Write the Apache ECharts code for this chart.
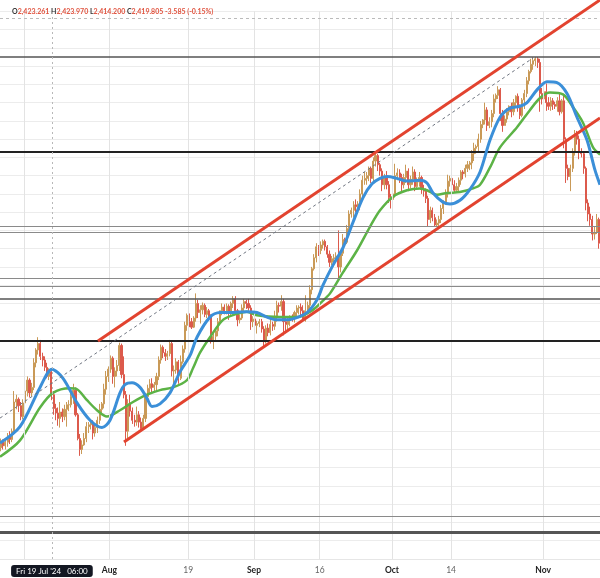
<!DOCTYPE html>
<html><head><meta charset="utf-8">
<script src="https://cdn.jsdelivr.net/npm/echarts@6/dist/echarts.min.js"></script>
<style>html,body{margin:0;padding:0;background:#fff}#c{width:600px;height:578px}</style>
</head><body><div id="c"></div>
<script>
// ---- header values (crosshair bar) ----
const headerO = '2,423.261', headerH = '2,423.970', headerL = '2,414.200', headerC = '2,419.805', headerChg = '-3.585 (-0.15%)';
const crosshairDay = 4.25;
const crosshairLabel = "Fri 19 Jul '24   06:00";

// ---- x axis: trading-day index (0 = Mon 15 Jul 2024) ----
const firstDay = -4;          // Tue 9 Jul
const barsPerDay = 3;
const tickDays = [0, 13, 25, 35, 45, 56, 65, 79];
const tickLabels = ['', 'Aug', '19', 'Sep', '16', 'Oct', '14', 'Nov'];
const monthLabels = ['Aug', 'Sep', 'Oct', 'Nov'];

// ---- candles: per trading day, 3 bars of [open, close, low, high] ----
const dayBars = [
 [[2359,2362,2355,2366],[2362,2368,2358,2372],[2368,2364,2360,2371]], // Jul 9
 [[2364,2368,2360,2372],[2368,2374,2363,2378],[2374,2371,2366,2380]], // Jul 10
 [[2371,2380,2368,2383],[2380,2412,2376,2424],[2412,2415,2404,2420]], // Jul 11
 [[2415,2408,2401,2417],[2408,2396,2392,2412],[2396,2411,2393,2415]], // Jul 12
 [[2411,2424,2410,2431],[2424,2436,2418,2440],[2436,2422,2417,2438]], // Jul 15
 [[2422,2428,2418,2433],[2428,2455,2425,2460],[2455,2469,2450,2471]],
 [[2469,2476,2464,2483],[2476,2462,2458,2480],[2462,2458,2451,2466]],
 [[2458,2450,2446,2462],[2450,2440,2438,2455],[2440,2445,2436,2449]],
 [[2445,2420,2414,2446],[2420,2405,2398,2424],[2405,2400,2392,2410]], // Jul 19
 [[2400,2394,2386,2406],[2394,2401,2384,2412],[2401,2396,2390,2405]], // Jul 22
 [[2396,2404,2392,2409],[2404,2409,2385,2412],[2409,2409,2402,2414]],
 [[2409,2418,2406,2424],[2418,2425,2410,2432],[2425,2398,2396,2428]],
 [[2398,2372,2370,2400],[2372,2360,2353,2377],[2360,2365,2355,2370]],
 [[2365,2372,2364,2378],[2372,2385,2368,2390],[2385,2387,2378,2390]],
 [[2387,2390,2382,2393],[2390,2378,2371,2392],[2378,2384,2374,2388]], // Jul 29
 [[2384,2392,2378,2396],[2392,2404,2388,2410],[2404,2410,2400,2412]],
 [[2410,2426,2405,2432],[2426,2440,2420,2446],[2440,2448,2434,2451]],
 [[2448,2460,2444,2463],[2460,2440,2432,2462],[2440,2446,2428,2450]], // Aug 1
 [[2446,2452,2440,2458],[2452,2474,2446,2477],[2474,2442,2438,2476]],
 [[2442,2420,2416,2462],[2420,2380,2364,2424],[2380,2410,2372,2415]], // Aug 5
 [[2410,2402,2396,2420],[2402,2392,2388,2406],[2392,2390,2385,2398]],
 [[2390,2398,2386,2407],[2398,2390,2384,2402],[2390,2383,2380,2395]],
 [[2383,2394,2382,2398],[2394,2418,2390,2422],[2418,2427,2412,2431]],
 [[2427,2432,2420,2437],[2432,2428,2422,2438],[2428,2431,2424,2434]],
 [[2431,2440,2423,2444],[2440,2458,2436,2462],[2458,2472,2454,2475]], // Aug 12
 [[2472,2466,2460,2474],[2466,2462,2457,2470],[2462,2465,2458,2468]],
 [[2465,2476,2462,2480],[2476,2446,2440,2478],[2446,2447,2432,2452]],
 [[2447,2456,2443,2460],[2456,2438,2432,2458],[2438,2456,2436,2463]],
 [[2456,2470,2454,2474],[2470,2496,2466,2500],[2496,2507,2490,2509]],
 [[2507,2500,2494,2509],[2500,2494,2492,2504],[2494,2504,2493,2506]], // Aug 19
 [[2504,2520,2500,2531],[2520,2510,2504,2524],[2510,2513,2498,2518]],
 [[2513,2518,2508,2521],[2518,2508,2505,2520],[2508,2512,2504,2516]],
 [[2512,2506,2504,2514],[2506,2480,2476,2508],[2480,2484,2470,2488]],
 [[2484,2490,2479,2493],[2490,2500,2484,2504],[2500,2512,2496,2512]],
 [[2512,2516,2507,2520],[2516,2510,2508,2519],[2510,2517,2508,2520]], // Aug 26
 [[2517,2510,2502,2519],[2510,2520,2506,2522],[2520,2525,2515,2528]],
 [[2525,2512,2508,2528],[2512,2502,2495,2514],[2502,2504,2498,2508]],
 [[2504,2515,2502,2519],[2515,2522,2510,2525],[2522,2520,2514,2524]],
 [[2520,2515,2512,2525],[2515,2500,2491,2518],[2500,2503,2494,2506]],
 [[2503,2496,2490,2504],[2496,2498,2487,2501],[2498,2500,2494,2503]], // Sep 2
 [[2500,2492,2488,2503],[2492,2478,2472,2495],[2478,2493,2476,2496]],
 [[2493,2488,2484,2498],[2488,2497,2485,2503],[2497,2495,2490,2500]],
 [[2495,2506,2491,2512],[2506,2518,2500,2523],[2518,2517,2510,2521]],
 [[2517,2522,2512,2529],[2522,2500,2485,2525],[2500,2497,2490,2504]],
 [[2497,2502,2489,2505],[2502,2506,2495,2507],[2506,2505,2500,2508]], // Sep 9
 [[2505,2510,2499,2512],[2510,2515,2503,2518],[2515,2516,2508,2518]],
 [[2516,2512,2506,2520],[2512,2502,2500,2518],[2502,2512,2500,2529]],
 [[2512,2518,2510,2522],[2518,2535,2514,2540],[2535,2558,2530,2560]],
 [[2558,2570,2556,2574],[2570,2582,2565,2586],[2582,2578,2572,2584]],
 [[2578,2584,2574,2588],[2584,2588,2580,2590],[2588,2582,2578,2590]], // Sep 16
 [[2582,2574,2570,2584],[2574,2565,2560,2578],[2565,2569,2562,2572]],
 [[2569,2570,2565,2574],[2570,2572,2566,2576],[2572,2560,2546,2600]],
 [[2560,2575,2554,2578],[2575,2590,2572,2596],[2590,2587,2582,2592]],
 [[2587,2602,2585,2606],[2602,2618,2598,2622],[2618,2622,2614,2625]],
 [[2622,2628,2614,2632],[2628,2626,2620,2634],[2626,2629,2622,2632]], // Sep 23
 [[2629,2640,2622,2645],[2640,2655,2636,2660],[2655,2657,2650,2664]],
 [[2657,2660,2650,2664],[2660,2668,2654,2670],[2668,2657,2652,2670]],
 [[2657,2676,2654,2680],[2676,2682,2670,2685],[2682,2672,2665,2684]],
 [[2672,2665,2660,2674],[2665,2650,2643,2668],[2650,2658,2645,2662]],
 [[2658,2650,2645,2665],[2650,2636,2630,2654],[2636,2634,2624,2640]], // Sep 30
 [[2634,2640,2625,2644],[2640,2660,2636,2673],[2660,2663,2655,2668]],
 [[2663,2658,2652,2667],[2658,2650,2642,2662],[2650,2658,2646,2662]],
 [[2658,2665,2652,2672],[2665,2650,2643,2668],[2650,2656,2646,2660]],
 [[2656,2664,2650,2670],[2664,2648,2643,2667],[2648,2653,2645,2658]],
 [[2653,2658,2648,2664],[2658,2645,2640,2660],[2645,2643,2637,2650]], // Oct 7
 [[2643,2635,2630,2646],[2635,2612,2604,2638],[2612,2622,2608,2626]],
 [[2622,2614,2610,2625],[2614,2606,2604,2618],[2606,2608,2604,2612]],
 [[2608,2612,2603,2616],[2612,2624,2608,2628],[2624,2630,2618,2633]],
 [[2630,2640,2628,2645],[2640,2654,2636,2661],[2654,2657,2648,2660]],
 [[2657,2650,2645,2658],[2650,2644,2642,2655],[2644,2648,2642,2652]], // Oct 14
 [[2648,2655,2641,2658],[2655,2664,2650,2666],[2664,2662,2656,2666]],
 [[2662,2668,2658,2672],[2668,2672,2664,2676],[2672,2674,2666,2676]],
 [[2674,2684,2667,2688],[2684,2690,2676,2696],[2690,2692,2684,2694]],
 [[2692,2700,2686,2706],[2700,2716,2696,2720],[2716,2721,2712,2722]],
 [[2721,2732,2716,2740],[2732,2715,2709,2735],[2715,2719,2712,2724]], // Oct 21
 [[2719,2728,2713,2732],[2728,2744,2724,2749],[2744,2748,2740,2750]],
 [[2748,2754,2744,2758],[2754,2728,2720,2756],[2728,2715,2708,2732]],
 [[2715,2722,2715,2726],[2722,2730,2718,2734],[2730,2736,2726,2737]],
 [[2736,2730,2724,2740],[2730,2740,2726,2744],[2740,2747,2736,2748]],
 [[2747,2735,2730,2750],[2735,2726,2722,2738],[2726,2743,2724,2745]], // Oct 28
 [[2743,2750,2733,2754],[2750,2764,2746,2768],[2764,2774,2760,2776]],
 [[2774,2782,2772,2788],[2782,2786,2776,2790],[2786,2788,2780,2790]],
 [[2788,2784,2778,2790],[2784,2750,2730,2788],[2750,2744,2738,2756]],
 [[2744,2752,2740,2756],[2752,2740,2731,2761],[2740,2736,2732,2746]], // Nov 1
 [[2736,2742,2731,2746],[2742,2738,2732,2745],[2738,2736,2733,2741]], // Nov 4
 [[2736,2742,2730,2746],[2742,2730,2726,2750],[2730,2742,2728,2744]],
 [[2742,2700,2690,2749],[2700,2668,2652,2702],[2668,2659,2655,2672]],
 [[2659,2668,2643,2672],[2668,2686,2664,2690],[2686,2706,2682,2710]],
 [[2706,2700,2694,2709],[2700,2686,2678,2704],[2686,2684,2680,2690]],
 [[2684,2668,2662,2685],[2668,2630,2622,2670],[2630,2618,2610,2634]], // Nov 11
 [[2618,2612,2605,2626],[2612,2596,2589,2616],[2596,2598,2590,2604]],
 [[2598,2612,2596,2618],[2612,2586,2580,2614]]                          // Nov 13
];

// ---- moving averages [tradingDay, price] ----
const blueMA = [[-3.65,2367],[-0.61,2385],[2.44,2428],[4.26,2448],[5.94,2438],[8.07,2411],[10.05,2392],[11.87,2384],[13.09,2392],[14.61,2422],[15.37,2431],[16.44,2433],[17.66,2428],[18.72,2416],[19.48,2407],[20.70,2410],[22.22,2422],[23.74,2445],[25.27,2463],[26.33,2483],[28.31,2505],[29.83,2510],[31.81,2510],[33.94,2511],[35.46,2510],[36.99,2505],[38.51,2502],[40.03,2502],[40.94,2503],[43.07,2510],[44.60,2524],[45.51,2540],[47.03,2562],[48.55,2581],[50.08,2609],[51.60,2636],[52.97,2651],[54.19,2657],[55.25,2659],[56.77,2657],[58.30,2654],[60.27,2655],[61.34,2652],[62.25,2641],[63.77,2631],[64.84,2629],[66.36,2633],[67.88,2645],[69.41,2664],[70.93,2699],[72.45,2724],[73.97,2734],[75.49,2736],[76.56,2740],[78.08,2754],[79.60,2763],[81.13,2762],[82.65,2750],[84.17,2724],[85.69,2699],[86.91,2666],[87.67,2650]];
const greenMA = [[-3.65,2352],[-0.61,2370],[2.44,2406],[4.41,2422],[7.00,2427],[8.07,2426],[9.59,2414],[11.11,2403],[12.63,2396],[14.61,2403],[16.59,2412],[18.72,2420],[20.70,2425],[22.68,2428],[24.81,2436],[25.72,2449],[26.79,2466],[28.31,2483],[30.29,2502],[32.12,2508],[33.94,2511],[35.46,2507],[38.96,2505],[41.55,2505],[43.99,2513],[45.36,2522],[46.58,2531],[48.55,2554],[50.68,2578],[52.66,2604],[54.19,2622],[56.16,2637],[58.30,2644],[60.27,2646],[61.34,2644],[62.86,2639],[64.38,2641],[66.36,2642],[68.34,2646],[69.41,2650],[70.93,2669],[72.45,2691],[75.04,2713],[77.02,2732],[78.54,2745],[80.06,2751],[82.04,2749],[83.56,2735],[85.08,2718],[86.61,2691],[87.67,2683]];

// ---- drawn lines ----
const upperChannel = [[11.26,2478.8],[87.67,2852.4]];
const lowerChannel = [[15.22,2368.1],[87.67,2723.1]];
const midDashed = [[-3.65,2394.4],[77.47,2788.9]];
const levelsBlack = [2685.9, 2478.8];
const levelsDark = [2790.0, 2524.8];
const levelsGray = [2604.8, 2598.2, 2547.8, 2539.1, 2287.1];
const levelsBase = [2269.6];
const levelsDashed = [2832.7];

// ---- build ----
const candles = [];
dayBars.forEach((bars, i) => bars.forEach((b, k) => {
  candles.push([firstDay + i + (k + 0.5) / barsPerDay, b[0], b[1], b[2], b[3]]);
}));

function hLines(vals, style) {
  return vals.map(v => ({ yAxis: v, lineStyle: style }));
}
const levelData = [].concat(
  hLines(levelsGray, { color: '#8a8a8a', width: 1, type: 'solid' }),
  hLines(levelsDark, { color: '#555', width: 1.5, type: 'solid' }),
  hLines(levelsBlack, { color: '#222', width: 2, type: 'solid' }),
  hLines(levelsBase, { color: '#555', width: 3, type: 'solid' }),
  hLines(levelsDashed, { color: '#bbb', width: 1, type: [3, 3] })
);
const vGrid = tickDays.map(d => ({ xAxis: d }));

const chart = echarts.init(document.getElementById('c'), null, { renderer: 'canvas' });
chart.setOption({
  animation: false,
  backgroundColor: '#fff',
  title: {
    left: 7, top: 3,
    text: '{k|O}{v|' + headerO + '} {k|H}{v|' + headerH + '} {k|L}{v|' + headerL + '} {k|C}{v|' + headerC + '} {v|' + headerChg + '}',
    textStyle: { fontFamily: 'Lato', fontSize: 7, rich: { k: { color: '#333', fontSize: 7, fontFamily: 'Lato' }, v: { color: '#e0533f', fontSize: 7, fontFamily: 'Lato' } } }
  },
  grid: { left: 0, right: 0, top: 11.35, bottom: 19, containLabel: false },
  xAxis: {
    type: 'value', min: firstDay + 0.347, max: 87.67,
    axisLine: { show: true, lineStyle: { color: '#e6e6e6' } },
    axisTick: { show: false },
    splitLine: { show: false },
    axisLabel: {
      customValues: tickDays, margin: 7, fontFamily: 'Lato', fontSize: 8.5, color: '#555',
      formatter: v => { const i = tickDays.indexOf(v); const t = i >= 0 ? tickLabels[i] : ''; if (!t) return ''; return monthLabels.includes(t) ? '{m|' + t + '}' : '{d|' + t + '}'; },
      rich: { m: { fontWeight: 'bold', color: '#222', fontSize: 8.5, fontFamily: 'Lato' }, d: { color: '#666', fontSize: 8.5, fontFamily: 'Lato' } }
    },
    axisPointer: {
      show: true, value: crosshairDay, status: 'show', type: 'line', snap: false, triggerTooltip: false,
      lineStyle: { color: '#b8b8b8', type: [2, 3], width: 1 },
      label: { show: true, formatter: () => crosshairLabel, backgroundColor: '#131722', color: '#fff', fontFamily: 'Lato', fontSize: 8, padding: [2, 5], margin: 6 }
    }
  },
  yAxis: {
    type: 'value', min: 2240, max: 2840, interval: 20, position: 'right',
    axisLine: { show: false }, axisTick: { show: false }, axisLabel: { show: false },
    splitLine: { show: true, lineStyle: { color: '#ececec', width: 1 } }
  },
  series: [
    { type: 'line', data: [], z: 1, silent: true,
      markLine: { silent: true, symbol: 'none', label: { show: false }, animation: false,
        lineStyle: { color: '#e3e3e3', width: 1, type: 'solid' }, data: vGrid } },
    { type: 'line', data: [], z: 3, silent: true,
      markLine: { silent: true, symbol: 'none', label: { show: false }, animation: false, data: levelData } },
    { type: 'candlestick', data: candles, z: 2, barWidth: 1.6,
      encode: { x: 0, y: [1, 2, 3, 4] },
      itemStyle: { color: '#c99a58', color0: '#dc5a4c', borderColor: '#c99a58', borderColor0: '#dc5a4c', borderWidth: 1 } },
    { type: 'line', data: greenMA, smooth: 0.3, showSymbol: false, z: 4, lineStyle: { color: '#5cb346', width: 2.5 } },
    { type: 'line', data: blueMA, smooth: 0.3, showSymbol: false, z: 5, lineStyle: { color: '#3b8fd8', width: 3 } },
    { type: 'line', data: midDashed, showSymbol: false, z: 6, lineStyle: { color: '#6f7580', width: 1, type: [3, 3] } },
    { type: 'line', data: upperChannel, showSymbol: false, clip: false, z: 7, lineStyle: { color: '#e2432f', width: 3 } },
    { type: 'line', data: lowerChannel, showSymbol: false, clip: false, z: 7, lineStyle: { color: '#e2432f', width: 3 } }
  ]
});
</script></body></html>
